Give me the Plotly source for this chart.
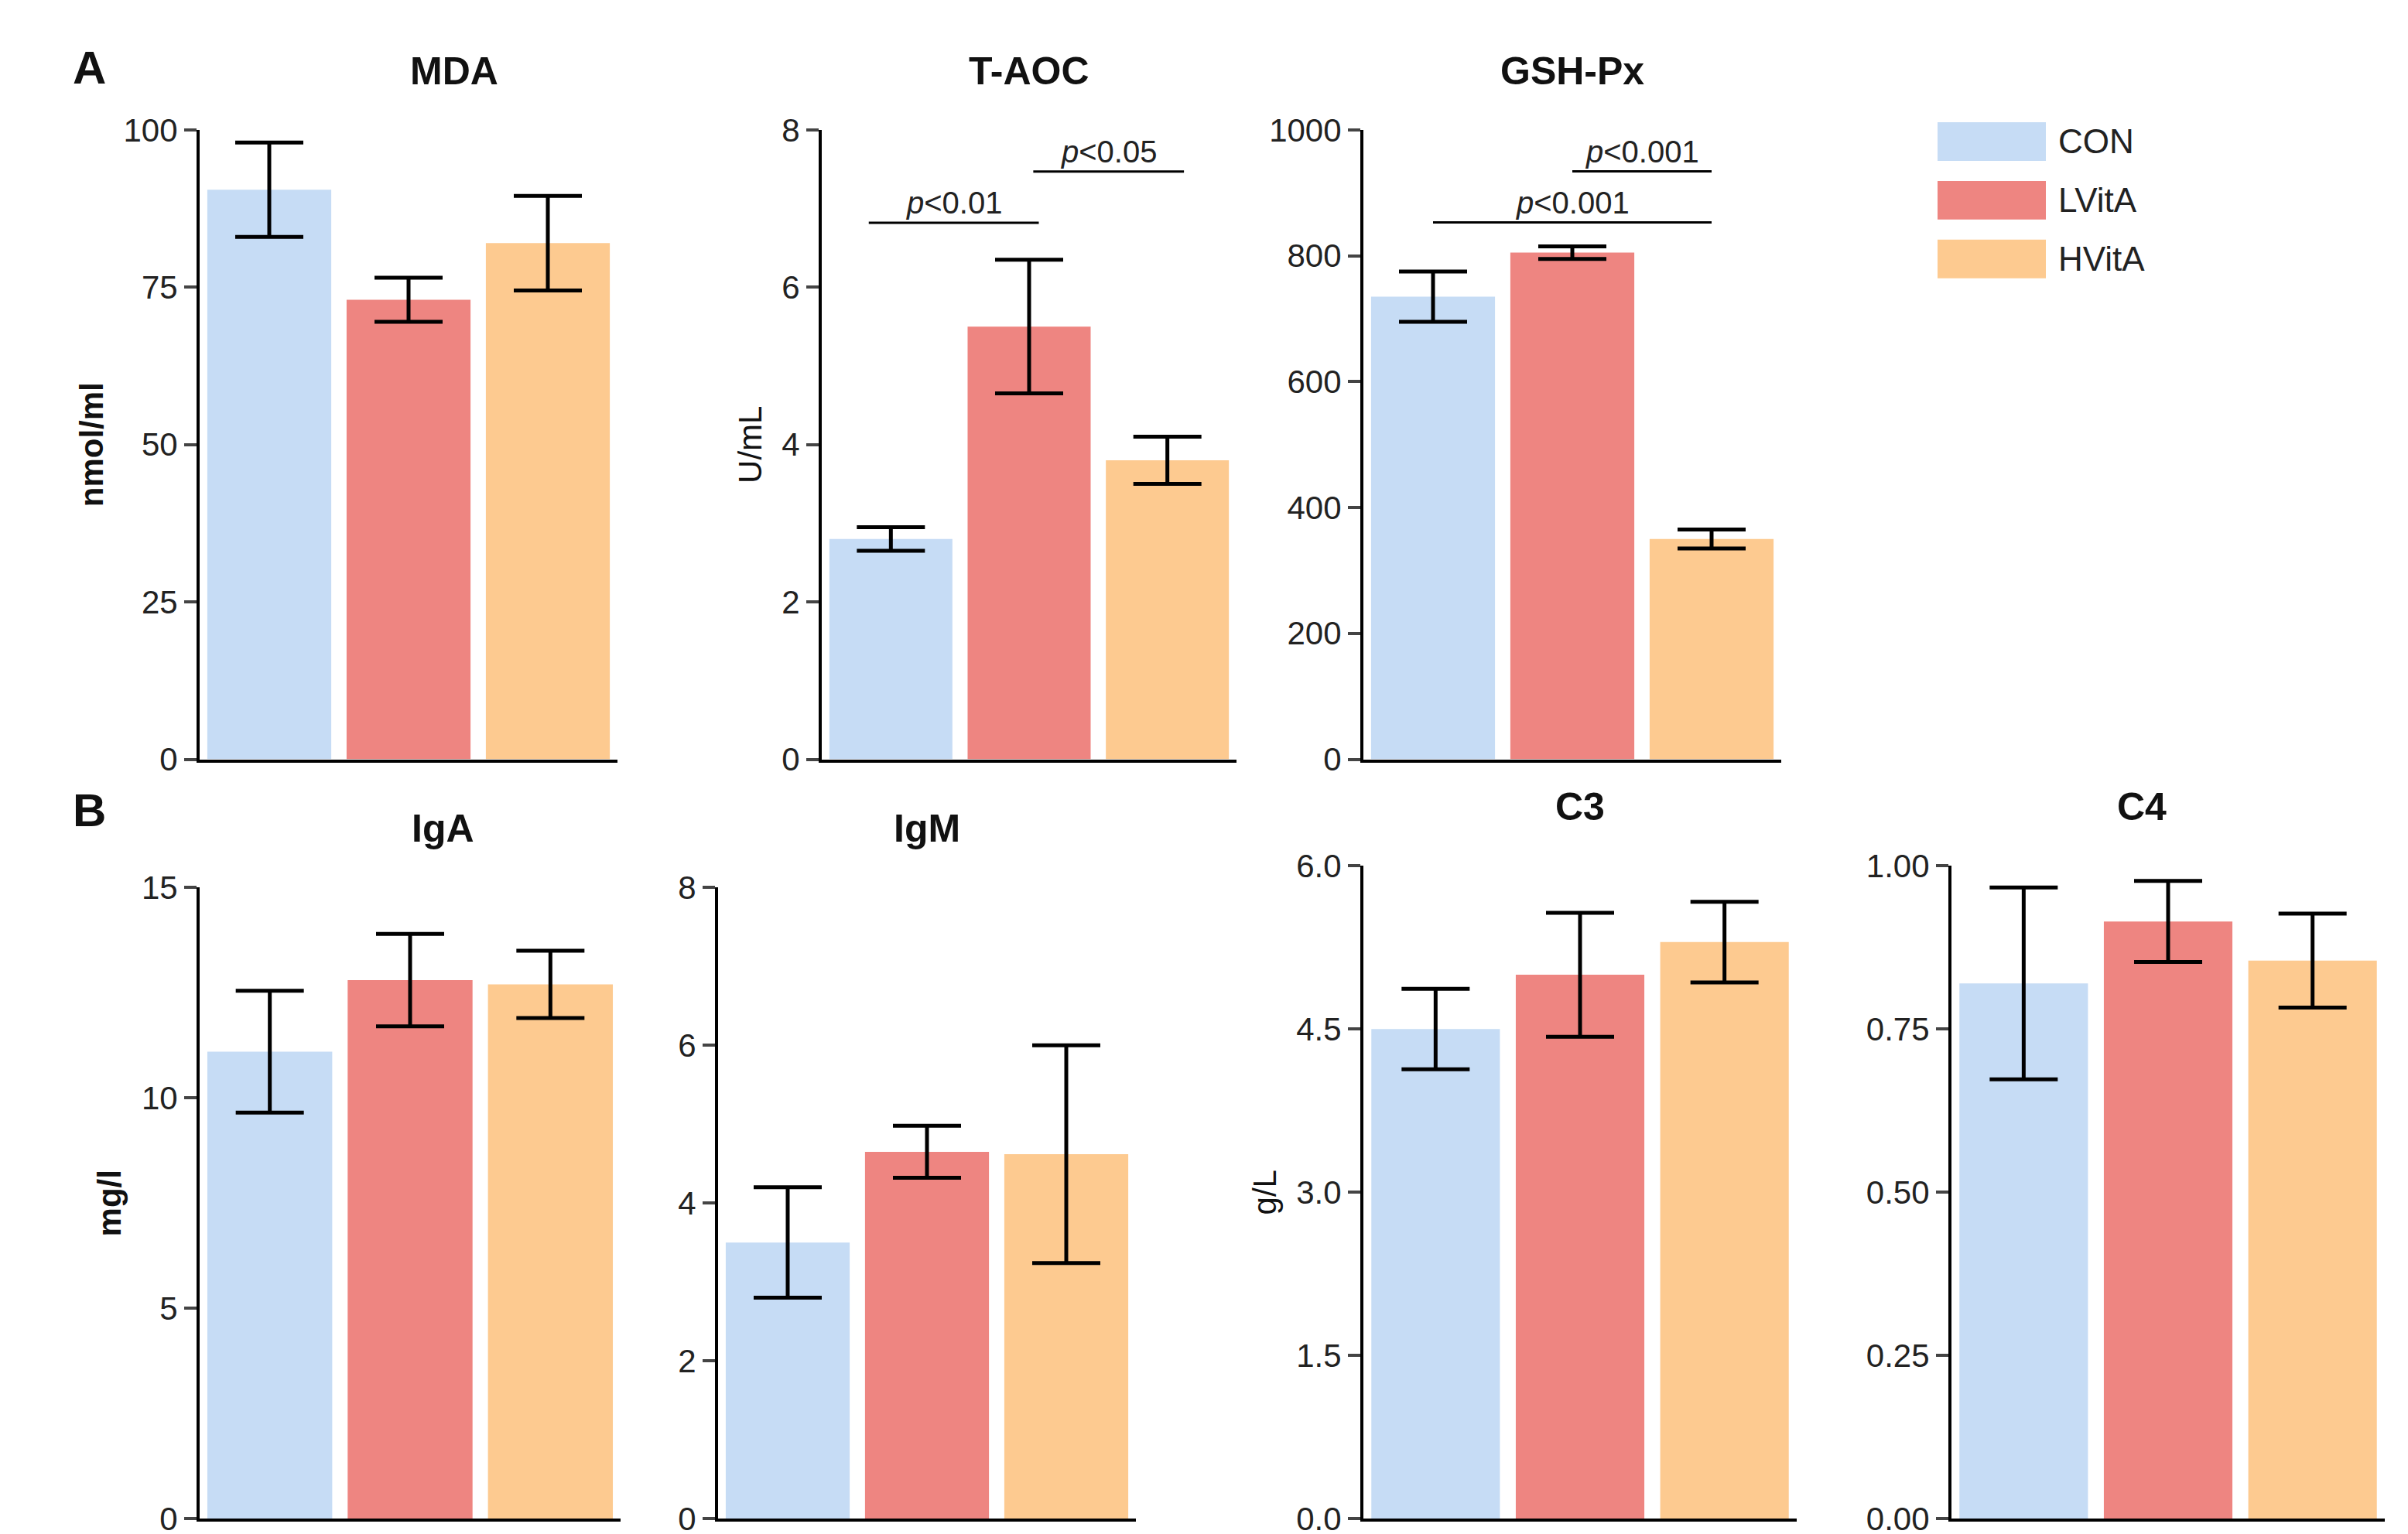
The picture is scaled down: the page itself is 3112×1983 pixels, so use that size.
import plotly.graph_objects as go

groups = ["CON", "LVitA", "HVitA"]
colors = ["#c6dcf5", "#ee8581", "#fdca90"]

mda = [90.5, 73.0, 82.0]
mda_err = [7.5, 3.5, 7.5]
taoc = [2.8, 5.5, 3.8]
taoc_err = [0.15, 0.85, 0.3]
gsh = [735, 805, 350]
gsh_err = [40, 10, 15]
iga = [11.1, 12.8, 12.7]
iga_err = [1.45, 1.1, 0.8]
igm = [3.5, 4.65, 4.62]
igm_err = [0.7, 0.33, 1.38]
c3 = [4.5, 5.0, 5.3]
c3_err = [0.37, 0.57, 0.37]
c4 = [0.82, 0.915, 0.855]
c4_err = [0.147, 0.062, 0.072]

W, H = 1556.0, 992.0  # layout in half-scale pixels

# name, values, errors, x0, x1, ytop, ybot, range, dtick, tickformat, ytitle
panels = [
    ("MDA", mda, mda_err, 125, 395, 80, 487, [0, 100], 25, "", "<b>nmol/ml</b>"),
    ("T-AOC", taoc, taoc_err, 527, 795, 80, 487, [0, 8], 2, "", "U/mL"),
    ("GSH-Px", gsh, gsh_err, 877, 1147, 80, 487, [0, 1000], 200, "", ""),
    ("IgA", iga, iga_err, 125, 397, 570, 978, [0, 15], 5, "", "<b>mg/l</b>"),
    ("IgM", igm, igm_err, 460, 730, 570, 978, [0, 8], 2, "", ""),
    ("C3", c3, c3_err, 877, 1157, 556, 978, [0, 6], 1.5, ".1f", "g/L"),
    ("C4", c4, c4_err, 1257, 1537, 556, 978, [0, 1], 0.25, ".2f", ""),
]

fig = go.Figure()
font = "Liberation Sans, Arial, sans-serif"
annotations = []
shapes = []

for i, (name, vals, errs, x0, x1, yt, yb, rng, dt, tf, ytitle) in enumerate(panels):
    k = "" if i == 0 else str(i + 1)
    fig.add_trace(go.Bar(
        x=[0, 1, 2], y=vals, marker_color=colors, marker_line_width=0, width=0.89,
        error_y=dict(type="data", array=errs, color="black", thickness=5, width=44),
        xaxis="x" + k, yaxis="y" + k, showlegend=False))
    fig.layout["xaxis" + k] = dict(
        domain=[x0 / W, x1 / W], range=[-0.5, 2.5], showticklabels=False, ticks="",
        showline=True, linecolor="black", linewidth=4, showgrid=False, zeroline=False,
        anchor="y" + k, fixedrange=True, automargin=False)
    fig.layout["yaxis" + k] = dict(
        domain=[1 - yb / H, 1 - yt / H], range=rng, dtick=dt, tickformat=tf,
        showline=True, linecolor="black", linewidth=4, ticks="outside", ticklen=16,
        tickwidth=4, showgrid=False, zeroline=False, anchor="x" + k, automargin=False,
        tickfont=dict(size=42, family=font, color="#222"),
        title=dict(text=ytitle, font=dict(size=42, family=font, color="#111"), standoff=14))
    annotations.append(dict(text="<b>%s</b>" % name, x=(x0 + x1) / 2 / W, y=1 - (yt - 38) / H,
                            xref="paper", yref="paper", showarrow=False, yanchor="middle",
                            font=dict(size=50, family=font, color="#111")))

# significance brackets (axis units)
brackets = [
    ("2", -0.16, 1.07, 6.82, "<i>p</i>&lt;0.01"),
    ("2", 1.03, 2.12, 7.47, "<i>p</i>&lt;0.05"),
    ("3", 0.0, 2.0, 853, "<i>p</i>&lt;0.001"),
    ("3", 1.0, 2.0, 934, "<i>p</i>&lt;0.001"),
]
for k, a, b, yv, txt in brackets:
    shapes.append(dict(type="line", xref="x" + k, yref="y" + k, x0=a, x1=b, y0=yv, y1=yv,
                       line=dict(color="black", width=3)))
    annotations.append(dict(text=txt, x=(a + b) / 2, y=yv, xref="x" + k, yref="y" + k,
                            showarrow=False, yanchor="bottom", yshift=2,
                            font=dict(size=40, family=font, color="#222")))

# legend
for j, g in enumerate(groups):
    top = 75 + j * 38
    shapes.append(dict(type="rect", xref="paper", yref="paper", x0=1248 / W, x1=1318 / W,
                       y0=1 - (top + 25) / H, y1=1 - top / H, fillcolor=colors[j], line_width=0))
    annotations.append(dict(text=g, x=1325 / W, y=1 - (top + 12.5) / H, xref="paper", yref="paper",
                            xanchor="left", yanchor="middle", showarrow=False,
                            font=dict(size=44, family=font, color="#222")))

for letter, yy in [("A", 40), ("B", 520)]:
    annotations.append(dict(text="<b>%s</b>" % letter, x=42 / W, y=1 - yy / H, xref="paper",
                            yref="paper", showarrow=False, yanchor="middle",
                            font=dict(size=60, family=font, color="#111")))

fig.update_layout(width=3112, height=1983,
                  margin=dict(l=0, r=0, t=0, b=0, pad=0, autoexpand=False),
                  plot_bgcolor="white", paper_bgcolor="white",
                  annotations=annotations, shapes=shapes)
fig.write_html("out.html")
